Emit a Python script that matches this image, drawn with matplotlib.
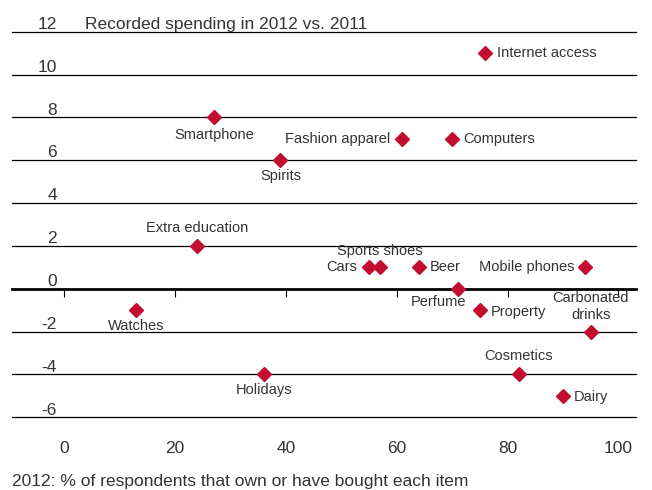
import matplotlib
matplotlib.use("Agg")
import matplotlib.pyplot as plt

# Survey data: ownership share in 2012 vs. change in recorded spending
items = ["Internet access", "Smartphone", "Fashion apparel", "Computers", "Spirits",
         "Extra education", "Sports shoes", "Cars", "Beer", "Mobile phones",
         "Perfume", "Watches", "Property", "Carbonated\ndrinks", "Holidays",
         "Cosmetics", "Dairy"]
own_pct = [76, 27, 61, 70, 39, 24, 57, 55, 64, 94, 71, 13, 75, 95, 36, 82, 90]
spend_change = [11, 8, 7, 7, 6, 2, 1, 1, 1, 1, 0, -1, -1, -2, -4, -4, -5]

x_ticks = [0, 20, 40, 60, 80, 100]
y_grid = [12, 10, 8, 6, 4, 2, 0, -2, -4, -6]

title = "Recorded spending in 2012 vs. 2011"
x_caption = "2012: % of respondents that own or have bought each item"

# Label placement: (dx, dy) in pixels, horizontal alignment
label_pos = {
    "Internet access": (12, 0, "left"),
    "Smartphone": (0, -18, "center"),
    "Fashion apparel": (-12, 0, "right"),
    "Computers": (11, 0, "left"),
    "Spirits": (0, -16, "center"),
    "Extra education": (0, 18, "center"),
    "Sports shoes": (0, 16, "center"),
    "Cars": (-12, 0, "right"),
    "Beer": (11, 0, "left"),
    "Mobile phones": (-11, 0, "right"),
    "Perfume": (-19, -13, "center"),
    "Watches": (0, -16, "center"),
    "Property": (11, -2, "left"),
    "Carbonated\ndrinks": (0, 25, "center"),
    "Holidays": (0, -16, "center"),
    "Cosmetics": (0, 18, "center"),
    "Dairy": (11, -1, "left"),
}

plt.rcParams["font.family"] = ["Liberation Sans", "DejaVu Sans"]
text_color = "#333333"
red = "#C20F2F"

W, H = 652, 490
fig = plt.figure(figsize=(W / 100, H / 100), dpi=100)
left_px, right_px, top_px, bottom_px = 12, 636, 31.7, 417.3
ax = fig.add_axes([left_px / W, 1 - bottom_px / H,
                   (right_px - left_px) / W, (bottom_px - top_px) / H])
ax.set_xlim(-9.44, 103.19)
ax.set_ylim(-6, 12)
for s in ax.spines.values():
    s.set_visible(False)
ax.patch.set_visible(False)

# Horizontal grid and the heavier zero line
for g in y_grid:
    ax.axhline(g, color="black", lw=2.0 if g == 0 else 0.9, zorder=1,
               clip_on=False)
    ax.text(-1.32, g + 0.13, f"{g}", ha="right", va="baseline",
            fontsize=12.5, color=text_color)

ax.text(3.75, 12 + 0.12, title, ha="left", va="baseline",
        fontsize=12.5, color=text_color)

# X ticks hang from the zero line
ax.spines["bottom"].set_position(("data", 0))
ax.set_xticks(x_ticks)
ax.set_xticklabels([str(t) for t in x_ticks])
ax.tick_params(axis="x", direction="out", length=5.8, width=0.8,
               color="black", pad=103.5, labelsize=12.5, labelcolor=text_color)
ax.set_yticks([])

ax.text(-9.44, -8.98, x_caption, ha="left", va="center",
        fontsize=12.5, color=text_color)

ax.plot(own_pct, spend_change, linestyle="none", marker="D", markersize=7.6,
        color=red, zorder=3, clip_on=False)

for name, x, y in zip(items, own_pct, spend_change):
    dx, dy, ha = label_pos[name]
    ax.annotate(name, (x, y), xytext=(dx, dy), textcoords="offset pixels",
                ha=ha, va="center", fontsize=10.5, color=text_color,
                multialignment="center", linespacing=1.25, zorder=4)

fig.savefig("out.png", dpi=100)
